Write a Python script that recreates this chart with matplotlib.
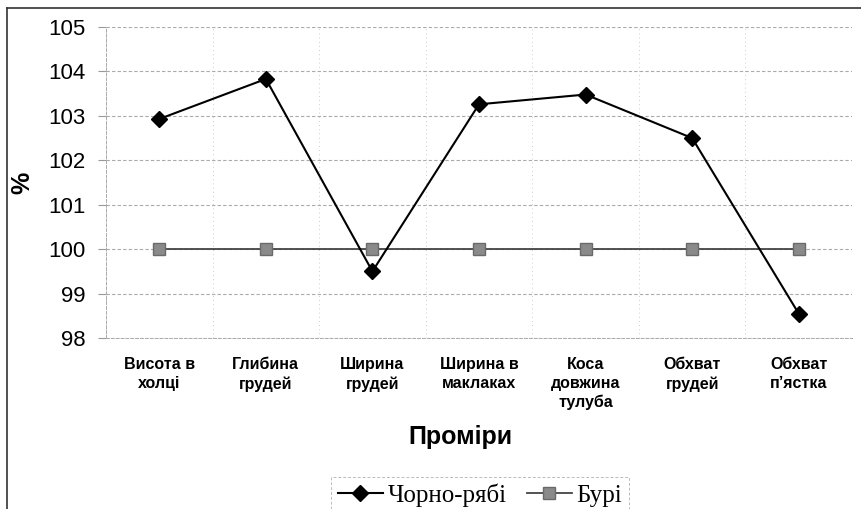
import numpy as np
import matplotlib.pyplot as plt
from matplotlib.lines import Line2D

categories = ['Висота в\nхолці', 'Глибина\nгрудей', 'Ширина\nгрудей', 'Ширина в\nмаклаках',
              'Коса\nдовжина\nтулуба', 'Обхват\nгрудей', 'Обхват\nп\u2019ястка']
chorno_riabi = [102.93, 103.83, 99.5, 103.26, 103.48, 102.5, 98.55]
buri = [100, 100, 100, 100, 100, 100, 100]
y_ticks = [98, 99, 100, 101, 102, 103, 104, 105]

W, H = 862, 509
fig = plt.figure(figsize=(W / 100, H / 100), dpi=100)
fig.patch.set_facecolor('white')

# plot area in pixel coordinates
left, right, top, bottom = 106, 852, 27, 338
ax = fig.add_axes([left / W, 1 - bottom / H, (right - left) / W, (bottom - top) / H])

x = np.arange(len(categories))
ax.plot(x, buri, color='#444444', lw=1.3, marker='s', markersize=8,
        markerfacecolor='#8a8a8a', markeredgecolor='#6a6a6a', label='Бурі', zorder=3)
ax.plot(x, chorno_riabi, color='black', lw=1.5, marker='D', markersize=8,
        markerfacecolor='black', markeredgecolor='black', label='Чорно-рябі', zorder=4)

ax.set_xlim(-0.5, len(categories) - 0.5)
ax.set_ylim(98, 105)
ax.set_yticks(y_ticks)
ax.set_yticklabels([str(v) for v in y_ticks], fontsize=16, family='Liberation Sans')
ax.set_xticks(x)
ax.set_xticklabels(categories, fontsize=11.5, fontweight='bold', family='Liberation Sans',
                   linespacing=1.3, va='top')
ax.set_xticks(np.arange(len(categories) + 1) - 0.5, minor=True)

ax.tick_params(axis='x', which='major', length=0, pad=14)
ax.tick_params(axis='x', which='minor', length=0)
ax.tick_params(axis='y', length=6, color='#999999', pad=9)

ax.grid(axis='y', color='#aaaaaa', lw=0.8, linestyle=(0, (3, 2)))
ax.grid(axis='x', which='minor', color='#bbbbbb', lw=0.6, linestyle=(0, (1, 4)))
for s in ax.spines.values():
    s.set_color('#aaaaaa')
    s.set_linewidth(0.7)
    s.set_linestyle((0, (3, 2)))
ax.spines['top'].set_visible(False)
ax.spines['right'].set_visible(False)

fig.text(22 / W, 1 - 183 / H, '%', rotation=90, ha='center', va='center',
         fontsize=18, fontweight='bold', family='Liberation Sans')
fig.text(460 / W, 1 - 437 / H, 'Проміри', ha='center', va='center',
         fontsize=18, fontweight='bold', family='Liberation Sans')

# outer chart border (left and top)
fig.add_artist(Line2D([7 / W, 7 / W], [0, 1 - 8 / H], color='#333333', lw=1.2))
fig.add_artist(Line2D([7 / W, 1], [1 - 8 / H, 1 - 8 / H], color='#333333', lw=1.2))

handles, labels = ax.get_legend_handles_labels()
leg = fig.legend(handles[::-1], labels[::-1], loc='center', ncol=2,
                 bbox_to_anchor=(480 / W, 1 - 495 / H),
                 prop={'family': 'Liberation Serif', 'size': 18},
                 frameon=True, fancybox=False, handlelength=1.8, handletextpad=0.2,
                 columnspacing=0.8, borderpad=0.25, borderaxespad=0)
leg.get_frame().set_edgecolor('#aaaaaa')
leg.get_frame().set_linewidth(0.7)
leg.get_frame().set_linestyle((0, (3, 2)))

fig.savefig('out.png', dpi=100)
